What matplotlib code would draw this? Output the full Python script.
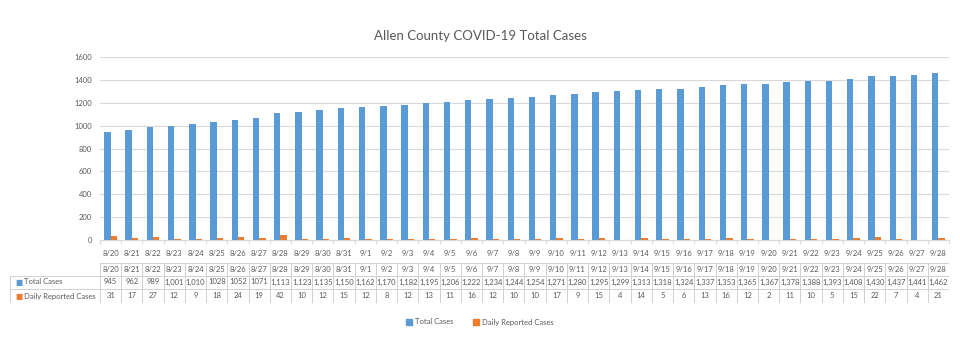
import matplotlib.pyplot as plt
from matplotlib.patches import Patch

plt.rcParams["font.family"] = ["Lato", "DejaVu Sans"]

# ==========================================
# Data
# ==========================================

dates = [
    "8/20", "8/21", "8/22", "8/23", "8/24", "8/25", "8/26", "8/27", "8/28", "8/29",
    "8/30", "8/31", "9/1", "9/2", "9/3", "9/4", "9/5", "9/6", "9/7", "9/8",
    "9/9", "9/10", "9/11", "9/12", "9/13", "9/14", "9/15", "9/16", "9/17", "9/18",
    "9/19", "9/20", "9/21", "9/22", "9/23", "9/24", "9/25", "9/26", "9/27", "9/28",
]

total_cases = [
    945, 962, 989, 1001, 1010, 1028, 1052, 1071, 1113, 1123,
    1135, 1150, 1162, 1170, 1182, 1195, 1206, 1222, 1234, 1244,
    1254, 1271, 1280, 1295, 1299, 1313, 1318, 1324, 1337, 1353,
    1365, 1367, 1378, 1388, 1393, 1408, 1430, 1437, 1441, 1462,
]

daily_cases = [
    31, 17, 27, 12, 9, 18, 24, 19, 42, 10,
    12, 15, 12, 8, 12, 13, 11, 16, 12, 10,
    10, 17, 9, 15, 4, 14, 5, 6, 13, 16,
    12, 2, 11, 10, 5, 15, 22, 7, 4, 21,
]

# these cells were typed without a thousands separator in the sheet
no_comma_dates = ["8/25", "8/26", "8/27"]

y_ticks = [0, 200, 400, 600, 800, 1000, 1200, 1400, 1600]

BLUE = "#5B9BD5"
ORANGE = "#ED7D31"
TEXT = "#595959"
GRID = "#D9D9D9"

W, H = 960, 347
n = len(dates)
x = list(range(n))

fig = plt.figure(figsize=(9.6, 3.47), dpi=100)

# ==========================================
# Bar chart
# ==========================================

left_px, right_px = 100, 949
ax = fig.add_axes([
    left_px / W, 1 - 240 / H,
    (right_px - left_px) / W, (240 - 57) / H
])

bw = 0.3
ax.bar([i - bw / 2 for i in x], total_cases, width=bw, color=BLUE, zorder=3)
ax.bar([i + bw / 2 for i in x], daily_cases, width=bw, color=ORANGE, zorder=3)

ax.set_xlim(-0.5, n - 0.5)
ax.set_ylim(0, 1600)
ax.set_yticks(y_ticks)
ax.set_yticklabels([str(t) for t in y_ticks], fontsize=5.5, color=TEXT)
ax.tick_params(axis="y", length=0, pad=6)

ax.grid(True, axis="y", color=GRID, linewidth=0.8, zorder=0)
for s in ["top", "right", "left"]:
    ax.spines[s].set_visible(False)
ax.spines["bottom"].set_color(GRID)
ax.spines["bottom"].set_linewidth(0.8)

# boundary ticks between categories, labels centred under each group
ax.set_xticks([i - 0.5 for i in range(n + 1)])
ax.set_xticklabels([])
ax.tick_params(axis="x", length=3, color=GRID, width=0.8)
ax.set_xticks(x, minor=True)
ax.set_xticklabels(dates, minor=True, fontsize=5.5, color=TEXT)
ax.tick_params(axis="x", which="minor", length=0, pad=7)

fig.text(0.5, 1 - 36 / H, "Allen County COVID-19 Total Cases",
         ha="center", va="center", fontsize=9.5, color=TEXT)

# ==========================================
# Data table
# ==========================================

tab_left = 10
col_px = (right_px - left_px) / n
label_units = (left_px - tab_left) / col_px

tax = fig.add_axes([tab_left / W, 1 - 303 / H,
                    (right_px - tab_left) / W, (303 - 263) / H])
tax.set_xlim(-0.5 - label_units, n - 0.5)
tax.set_ylim(40, 0)
tax.axis("off")

row_edges = [0, 12.5, 25.5, 40]
lc = "#D0D0D0"

# horizontal lines
tax.hlines(row_edges[0], -0.5, n - 0.5, color=lc, linewidth=0.7)
for r in row_edges[1:]:
    tax.hlines(r, -0.5 - label_units, n - 0.5, color=lc, linewidth=0.7)
# vertical lines
for i in range(n + 1):
    tax.vlines(i - 0.5, 0, 40, color=lc, linewidth=0.7)
tax.vlines(-0.5 - label_units, 12.5, 40, color=lc, linewidth=0.7)

total_text = [
    str(v) if d in no_comma_dates else f"{v:,}"
    for d, v in zip(dates, total_cases)
]

for i in x:
    tax.text(i, 6.5, dates[i], ha="center", va="center", fontsize=5.5, color=TEXT)
    tax.text(i, 19, total_text[i], ha="center", va="center", fontsize=5.5, color=TEXT)
    tax.text(i, 33, str(daily_cases[i]), ha="center", va="center", fontsize=5.5, color=TEXT)

lx = -0.5 - label_units + 0.25
for yy, lab, col in [(19, "Total Cases", BLUE), (33, "Daily Reported Cases", ORANGE)]:
    tax.text(lx, yy, "\u25A0", ha="left", va="center", fontsize=5.5, color=col)
    tax.text(lx + 0.4, yy, lab, ha="left", va="center", fontsize=5.5, color=TEXT)

# ==========================================
# Legend
# ==========================================

handles = [Patch(color=BLUE, label="Total Cases"),
           Patch(color=ORANGE, label="Daily Reported Cases")]
fig.legend(handles=handles, loc="center", bbox_to_anchor=(0.5, 1 - 322 / H),
           ncol=2, frameon=False, fontsize=5.5, labelcolor=TEXT,
           handlelength=0.8, handleheight=0.8, handletextpad=0.4, columnspacing=2.5)

fig.savefig("out.png", dpi=100)
